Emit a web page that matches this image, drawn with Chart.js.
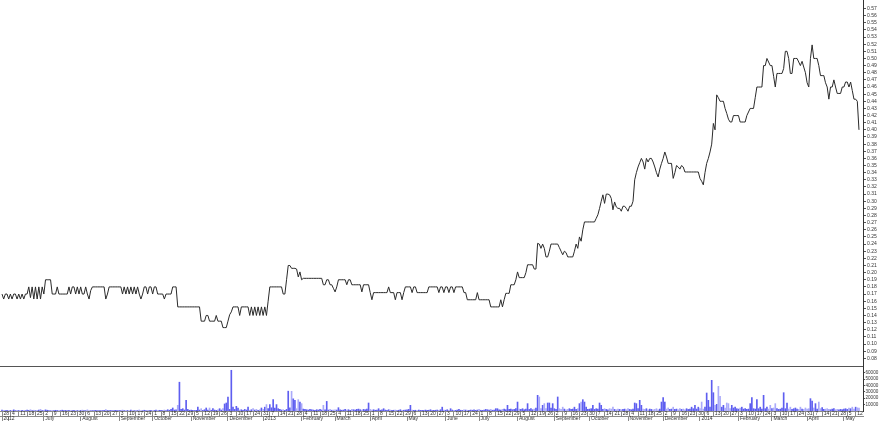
<!DOCTYPE html>
<html><head><meta charset="utf-8">
<script src="https://cdn.jsdelivr.net/npm/chart.js@4"></script>
<style>
html,body{margin:0;padding:0;background:#fff;overflow:hidden}
#wrap{position:relative;width:880px;height:421px;background:#fff}
canvas{position:absolute;left:0}
#pc{top:0}#vc{top:367px}
</style></head><body>
<div id="wrap"><canvas id="pc" width="880" height="367"></canvas><canvas id="vc" width="880" height="54"></canvas></div>
<script>
const startDate = '2012-05-28';
const prices = [
.17,.163,.17,.17,.163,.17,.163,.17,.17,.163,.17,.163,.17,.163,.17,.17,
.18,.165,.18,.163,.18,.163,.18,.163,.18,.17,.19,
.19,.19,.19,
.17,.17,.17,.18,.17,.17,.17,.17,.17,.17,
.18,.17,.18,.18,.17,.18,.17,.18,.17,.17,.18,
.17,.163,.175,.18,.18,.18,.18,.18,.18,.18,
.18,.163,.17,.18,.18,.18,.18,.18,.18,.18,.18,
.17,.18,.17,.18,.17,.18,.17,.18,.17,.18,.17,.163,
.17,.18,.18,.17,.18,.18,.17,.18,.18,.17,.17,
.17,.17,.163,.17,.17,.17,.17,.18,.18,.18,.152,
.152,.152,.152,.152,.152,.152,.152,.152,.152,.152,.152,.152,.152,
.132,.132,.132,.14,.14,.132,.132,.132,.132,.14,.132,.132,.132,.123,.123,.123,.132,.141,.145,.152,.152,
.152,.152,.14,.152,.152,.152,.152,.152,.14,.152,.14,.152,.14,.152,.14,.152,.14,.152,.14,
.16,.18,.18,.18,.18,.18,.18,.18,.18,.17,.17,.19,.21,.21,.206,
.206,.206,.205,.194,.201,.19,.192,.192,.192,.192,.192,.192,.192,.192,.192,.192,.192,.192,
.183,.183,.19,.19,.183,.183,.178,.173,.18,.19,.19,.19,.19,.19,
.183,.19,.19,.183,.183,.183,.183,.183,.183,.173,.183,.183,.183,.183,
.172,.162,.172,.172,.172,.172,.172,.172,.172,.172,.172,.18,.172,.172,.172,.162,.172,.172,.172,.162,.172,
.18,.18,.18,.18,.172,.18,.18,.172,.172,.172,.172,.172,.172,.172,.18,.18,.18,.18,.18,.18,
.172,.18,.18,.172,.18,.18,.172,.18,.18,.172,.18,.18,.18,.18,.18,.172,.172,.162,.162,.162,.162,.162,.162,
.172,.162,.162,.162,.162,.162,.162,.162,.152,.152,.152,.152,.152,.152,.162,.152,.162,
.171,.171,.171,.183,.183,.183,.19,.201,.193,.193,.193,.193,.2,.211,.211,.211,.211,.205,.205,
.241,.24,.234,.24,.234,.222,.222,.23,.24,.24,.24,.24,.24,.235,.23,.225,.23,.228,.222,.222,.222,.222,.23,.24,.234,
.25,.244,.26,.271,.271,.271,.271,.271,.271,.271,.276,.281,.29,.3,.309,.297,.31,.31,.309,.304,.288,.299,.292,.29,.29,.286,.293,.293,.29,.286,.293,.293,.3,
.33,.34,.348,.354,.36,.355,.345,.36,.355,.36,.36,.355,.348,.34,.334,.345,.353,.36,.369,.362,.353,.353,.353,
.332,.34,.35,.348,.345,.35,.348,.341,.341,.341,.341,.341,.341,.341,.341,.341,.332,.328,.323,.34,.353,.36,.369,.38,
.409,.40,.449,.445,.44,.44,.44,.43,.423,.415,.411,.411,.42,.42,.42,.42,.411,.411,.411,.411,.42,.425,.43,.43,.43,.445,
.46,.46,.46,.46,.49,.49,.50,.495,.49,.49,.475,.46,.479,.479,.479,.479,.486,.51,.51,.50,.479,.479,.50,.50,.50,.495,.49,.496,.488,.48,.466,.46,
.50,.519,.50,.50,.50,.49,.476,.476,.476,.466,.46,.443,.46,.46,.47,.46,.451,.451,.451,.46,.46,.467,.467,.46,.467,.455,.443,.443,.44,.40
];
const volumes = [
1500,800,600,1200,500,900,700,1800,600,1000,
800,500,1200,700,600,1500,900,2000,700,1200,
600,900,1500,2500,800,1000,1800,1200,700,500,
900,600,1100,800,500,700,1300,600,900,500,
1000,700,600,1200,500,800,600,900,1400,700,
600,1800,800,500,700,600,1000,500,800,600,
700,1200,2200,800,600,900,500,700,1000,600,
800,500,1500,700,600,900,500,1300,700,600,
900,700,1600,800,500,1200,600,900,700,1000,
600,800,1400,700,1100,900,600,1500,800,2000,
1200,2500,4700,1500,2000,8900,45000,2500,3600,1500,
16700,2500,1200,1500,1000,800,1200,6000,1500,3600,
1200,2000,4700,1500,4700,1200,3600,1500,1000,2000,
3600,1500,3600,11000,12500,21900,2500,63600,6000,2500,
7300,4700,1500,2000,1200,2500,1500,6000,1200,2000,
3600,1500,2500,1200,2000,4700,2500,6000,10000,3600,
10000,5000,17700,4700,10000,3600,2500,1500,2000,1200,
2500,31000,5000,30700,19000,16700,3600,17700,14000,11500,
3000,2500,2000,1500,2500,2000,1500,1200,2000,1500,
2500,1500,8900,2000,15000,1500,2500,1200,1500,2000,
1500,5200,2000,1200,1500,2500,1500,2000,1200,2500,
2000,1500,2500,3000,2000,1500,2500,2000,3000,12500,
2500,1500,2000,1200,1500,3600,1200,2000,3600,1500,
1200,2000,1500,1000,1200,1500,800,1200,2000,1000,
1200,1500,2000,2500,8900,1500,1000,1200,800,1500,
1000,1200,800,1500,1000,1200,2000,800,1000,1200,
1500,1000,2000,6000,1500,1200,2000,1000,3600,1500,
1200,1000,1500,2500,1200,1000,2000,1500,1200,1000,
1500,1200,2000,1000,1500,2500,1200,1000,1500,2500,
2000,1500,2500,1200,1500,3600,3600,2000,1500,2500,
3000,2000,8900,2500,3000,2000,2500,3600,14000,3000,
2500,3600,2000,3000,11500,2500,3600,2000,3000,4700,
24500,21900,3600,8900,11500,3600,12500,12500,4700,11500,
3600,2500,21900,3600,2500,6000,3000,2000,2500,3600,
2500,3000,6000,2500,3600,11500,14000,17700,14000,6000,
2500,3000,3600,8900,2500,3600,3000,12500,8900,2500,
3600,2500,2000,3600,3000,6000,2500,2000,3000,2500,
2000,2500,3000,2000,3600,2500,2000,3000,12500,11500,
3600,16700,8900,3000,2500,3600,2000,3000,2500,2000,
2500,3600,2000,3000,14000,20800,14000,3000,4700,2500,
3000,6000,2500,3000,2000,3600,2500,3000,2000,3600,
2500,3000,6000,3600,8900,3000,6000,3600,14000,3000,
6000,28100,16700,6000,47900,28600,8900,10400,38500,22900,
6000,8900,4700,12500,11500,3600,8900,4700,6000,3600,
3000,4700,6000,3000,3600,2500,3000,11500,20800,3600,
3000,17700,3600,6000,3000,24500,3600,6000,3000,8900,
3600,4700,11500,3600,2500,3000,4700,28600,3600,12500,
3000,6000,2500,3600,4700,3000,2500,6000,3000,2500,
4700,3000,3600,19300,15600,4700,11500,3000,14000,3600,
5200,2500,3000,3600,2500,2000,3000,3600,2000,2500,
2000,2500,2000,3000,3600,2500,4700,3600,6000,3000,
6000,5000,4700
];
const priceTicks = [0.08,0.09,0.10,0.11,0.12,0.13,0.14,0.15,0.16,0.17,0.18,0.19,0.20,0.21,0.22,0.23,0.24,0.25,0.26,0.27,0.28,0.29,0.30,0.31,0.32,0.33,0.34,0.35,0.36,0.37,0.38,0.39,0.40,0.41,0.42,0.43,0.44,0.45,0.46,0.47,0.48,0.49,0.50,0.51,0.52,0.53,0.54,0.55,0.56,0.57];
const volumeTicks = [10000,20000,30000,40000,50000,60000];
const monthNames = ['January','February','March','April','May','June','July','August','September','October','November','December'];

// trading days (weekdays) starting at startDate
const days = [];
(function(){
  const d = new Date(startDate + 'T00:00:00Z');
  while (days.length < prices.length) {
    const wd = d.getUTCDay();
    if (wd !== 0 && wd !== 6) days.push(new Date(d.getTime()));
    d.setUTCDate(d.getUTCDate() + 1);
  }
})();
const weekIdx = [], monthIdx = [];
days.forEach((d, i) => {
  if (d.getUTCDay() === 1) weekIdx.push(i);
  if (i === 0 || d.getUTCMonth() !== days[i-1].getUTCMonth()) monthIdx.push(i);
});
function monthLabel(i){
  const k = monthIdx.indexOf(i);
  if (k === 0) return String(days[i].getUTCFullYear());
  if (k > 0 && i - monthIdx[k-1] < 6) return '';
  const m = days[i].getUTCMonth();
  return m === 0 ? String(days[i].getUTCFullYear()) : monthNames[m];
}

Chart.defaults.font.family = "'Liberation Sans', Arial, sans-serif";
const XMIN = -1.2, XMAX = 514.4;
const zeroPad = s => { s.paddingLeft = 0; s.paddingRight = 0; s.paddingTop = 0; s.paddingBottom = 0; };
const tickFont = { size: 5 };
const txt = '#333';

new Chart(document.getElementById('pc'), {
  type: 'line',
  data: { datasets: [{
    data: prices.map((v, i) => ({ x: i, y: v })),
    borderColor: '#2a2a2a', borderWidth: 1, pointRadius: 0, tension: 0, fill: false
  }]},
  options: {
    responsive: false, animation: false, events: [],
    layout: { padding: 0 },
    plugins: { legend: { display: false }, tooltip: { enabled: false } },
    scales: {
      x: { type: 'linear', min: XMIN, max: XMAX, offset: false,
        ticks: { display: false }, grid: { display: false, drawTicks: false },
        border: { display: true, color: '#555', width: 1 },
        afterFit: s => { s.height = 1; zeroPad(s); } },
      y: { position: 'right', min: 0.0692, max: 0.5819,
        afterBuildTicks: s => { s.ticks = priceTicks.map(v => ({ value: v })); },
        ticks: { font: tickFont, color: txt, padding: 1, autoSkip: false, callback: v => Number(v).toFixed(2) },
        grid: { drawOnChartArea: false, drawTicks: true, tickLength: 3, color: '#555' },
        border: { display: true, color: '#333', width: 1 },
        afterFit: s => { s.width = 17; zeroPad(s); } }
    }
  }
});

new Chart(document.getElementById('vc'), {
  type: 'bar',
  data: { datasets: [{
    data: volumes.map((v, i) => ({ x: i, y: v })),
    backgroundColor: volumes.map((v, i) => (i === 0 || prices[i] >= prices[i-1]) ? '#5e5ef0' : '#aaaafa'),
    barThickness: 1, borderWidth: 0
  }]},
  options: {
    responsive: false, animation: false, events: [],
    layout: { padding: 0 },
    plugins: { legend: { display: false }, tooltip: { enabled: false } },
    scales: {
      x: { type: 'linear', position: 'bottom', weight: 0, min: XMIN, max: XMAX, offset: false,
        afterBuildTicks: s => { s.ticks = weekIdx.map(v => ({ value: v })); },
        ticks: { autoSkip: false, maxRotation: 0, minRotation: 0, align: 'start', labelOffset: 1.5, padding: -5,
          font: tickFont, color: txt, callback: v => String(days[Math.round(v)].getUTCDate()) },
        grid: { drawOnChartArea: false, drawTicks: true, tickLength: 5, color: '#8a8a8a', offset: false },
        border: { display: true, color: '#8a8a8a', width: 1 },
        afterFit: s => { s.height = 5; zeroPad(s); } },
      x2: { type: 'linear', position: 'bottom', axis: 'x', weight: 1, min: XMIN, max: XMAX, offset: false,
        afterBuildTicks: s => { s.ticks = monthIdx.map(v => ({ value: v })); },
        ticks: { autoSkip: false, maxRotation: 0, minRotation: 0, align: 'start', labelOffset: 1.5, padding: -5,
          font: tickFont, color: txt, callback: v => monthLabel(Math.round(v)) },
        grid: { drawOnChartArea: false, drawTicks: true, tickLength: 5, color: '#8a8a8a', offset: false },
        border: { display: true, color: '#8a8a8a', width: 1 },
        afterFit: s => { s.height = 5; zeroPad(s); } },
      y: { position: 'right', min: 0, max: 68750,
        afterBuildTicks: s => { s.ticks = volumeTicks.map(v => ({ value: v })); },
        ticks: { font: { size: 4.6 }, color: txt, padding: 0.5, autoSkip: false, callback: v => String(v) },
        grid: { drawOnChartArea: false, drawTicks: true, tickLength: 2, color: '#555' },
        border: { display: true, color: '#333', width: 1 },
        afterFit: s => { s.width = 17; zeroPad(s); } }
    }
  }
});
</script>
</body></html>
